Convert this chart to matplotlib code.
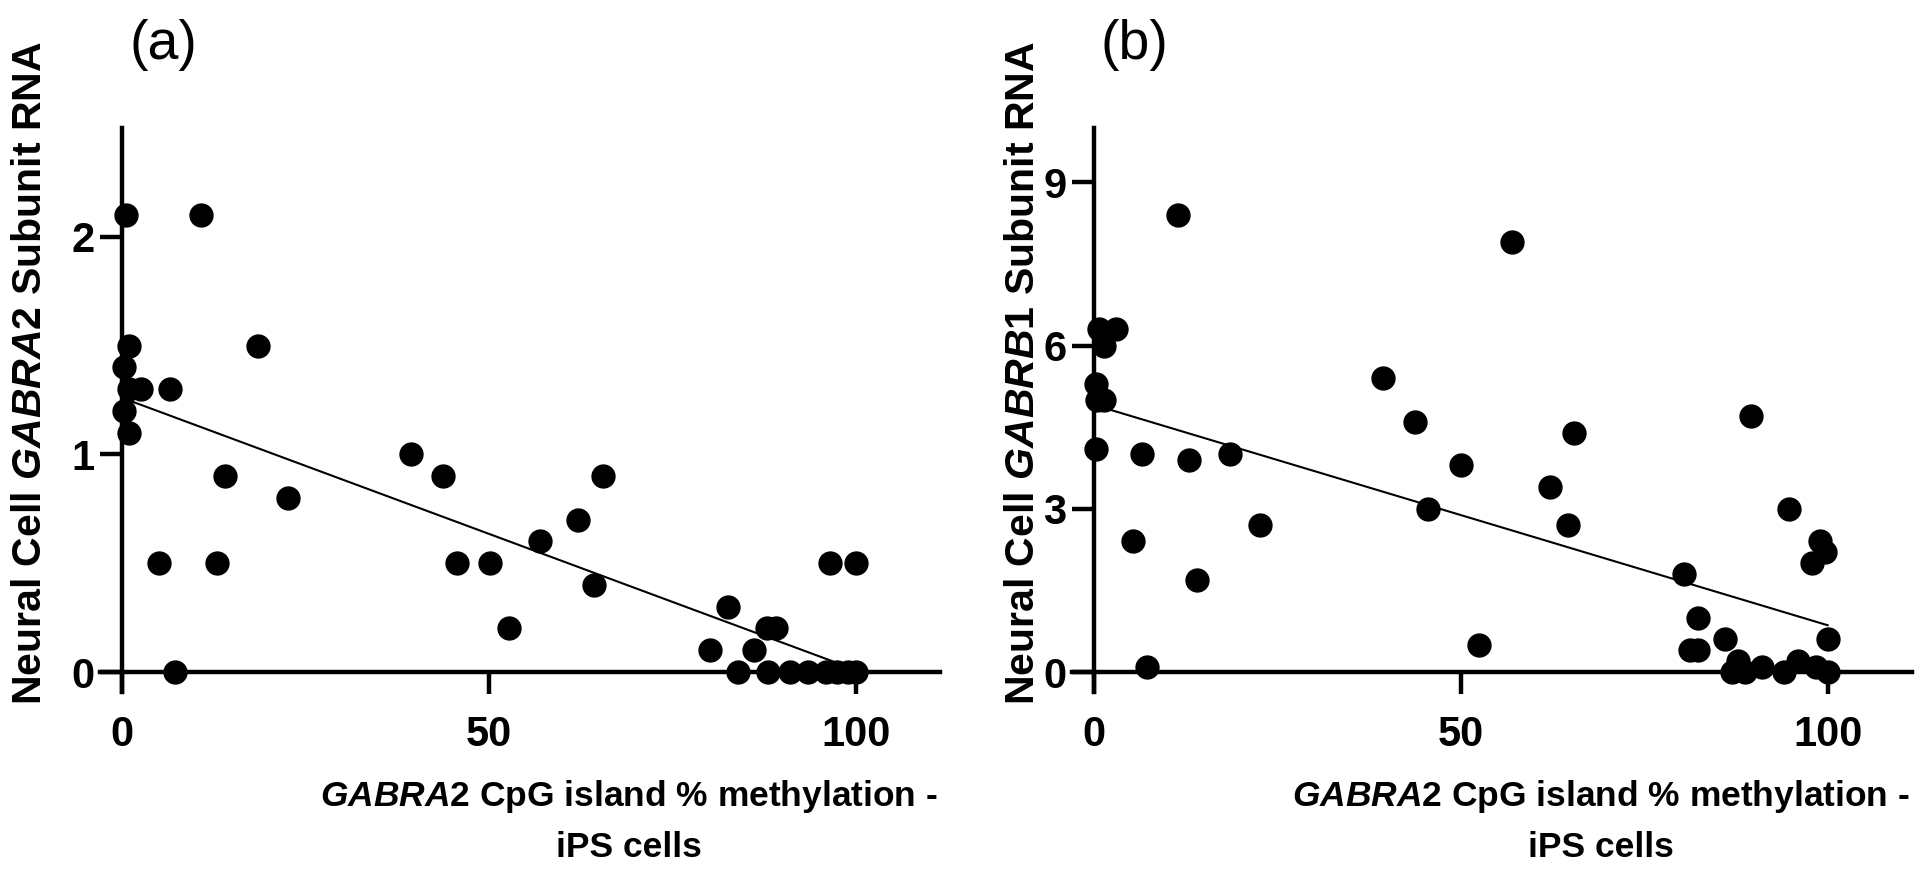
import numpy as np
import matplotlib
matplotlib.use("Agg")
import matplotlib.pyplot as plt

plt.rcParams['font.family'] = ['Liberation Sans', 'DejaVu Sans']
plt.rcParams['mathtext.fontset'] = 'custom'
plt.rcParams['mathtext.rm'] = 'Liberation Sans:bold'
plt.rcParams['mathtext.it'] = 'Liberation Sans:italic:bold'
plt.rcParams['mathtext.bf'] = 'Liberation Sans:bold'

# GABRA2 CpG island % methylation (iPS cells) vs neural cell subunit RNA
meth_a = [0.5, 10.7, 1.0, 18.6, 0.2, 1.0, 2.6, 6.5, 0.3, 1.0, 14.0, 22.6, 5.0, 13.0, 7.2,
          39.4, 43.8, 45.6, 50.1, 52.8, 57.0, 62.2, 64.4, 65.5,
          80.2, 82.6, 84.0, 86.2, 88.0, 87.9, 89.2, 91.0, 93.5, 96.5, 96.0, 97.5, 99.0, 100.0, 100.0]
rna_a = [2.1, 2.1, 1.5, 1.5, 1.4, 1.3, 1.3, 1.3, 1.2, 1.1, 0.9, 0.8, 0.5, 0.5, 0.0,
         1.0, 0.9, 0.5, 0.5, 0.2, 0.6, 0.7, 0.4, 0.9,
         0.1, 0.3, 0.0, 0.1, 0.0, 0.2, 0.2, 0.0, 0.0, 0.5, 0.0, 0.0, 0.0, 0.5, 0.0]

meth_b = [0.7, 3.0, 1.4, 0.3, 0.4, 1.4, 0.3, 6.5, 5.3, 7.2, 11.5, 13.0, 14.0, 18.6, 22.6,
          39.4, 43.8, 45.6, 50.1, 52.5, 57.0, 62.2, 64.6, 65.5,
          80.4, 81.2, 82.4, 82.4, 86.0, 87.0, 87.8, 89.5, 88.8, 91.0, 94.0, 94.7, 96.0,
          97.9, 98.4, 99.0, 99.7, 100.0, 100.0]
rna_b = [6.3, 6.3, 6.0, 5.3, 5.0, 5.0, 4.1, 4.0, 2.4, 0.1, 8.4, 3.9, 1.7, 4.0, 2.7,
         5.4, 4.6, 3.0, 3.8, 0.5, 7.9, 3.4, 2.7, 4.4,
         1.8, 0.4, 0.4, 1.0, 0.6, 0.0, 0.2, 4.7, 0.0, 0.1, 0.0, 3.0, 0.2,
         2.0, 0.1, 2.4, 2.2, 0.6, 0.0]

# linear fits: intercept, slope
fit_a = [1.26, -0.0125]
fit_b = [4.91, -0.0405]
fit_range = [0, 100]

xticks = [0, 50, 100]
yticks_a = [0, 1, 2]
yticks_b = [0, 3, 6, 9]

xlabel = "$\\mathit{GABRA2}$ CpG island % methylation -\niPS cells"
ylabel_a = "Neural Cell $\\mathit{GABRA2}$ Subunit RNA"
ylabel_b = "Neural Cell $\\mathit{GABRB1}$ Subunit RNA"


def draw_panel(ax, x, y, fit, ylim, yticks, ylabel, ylab_x, tag):
    ax.plot(x, y, 'o', color='black', markersize=16.5, clip_on=False, zorder=4)
    xs = np.array(fit_range)
    ax.plot(xs, fit[0] + fit[1] * xs, color='black', lw=1.5, zorder=3)

    ax.set_xlim(-3, 111.5)
    ax.set_ylim(*ylim)
    ax.set_xticks(xticks)
    ax.set_yticks(yticks)

    for s in ['top', 'right']:
        ax.spines[s].set_visible(False)
    ax.spines['left'].set_position(('data', 0))
    ax.spines['bottom'].set_position(('data', 0))
    for s in ['left', 'bottom']:
        ax.spines[s].set_linewidth(3.2)

    ax.tick_params(width=3.2, length=16, labelsize=30)
    ax.tick_params(axis='x', pad=15)
    ax.tick_params(axis='y', pad=4)
    for lab in ax.get_xticklabels() + ax.get_yticklabels():
        lab.set_fontweight('bold')

    ax.text(ylab_x, 0.565, ylabel, rotation=90, ha='center', va='center',
            transform=ax.transAxes, fontsize=29.5, fontweight='bold')
    ax.text(0.63, -0.23, xlabel, ha='center', va='center', multialignment='center',
            transform=ax.transAxes, fontsize=25.5, fontweight='bold', linespacing=1.6)
    ax.text(0.075, 1.147, tag, ha='center', va='center', transform=ax.transAxes,
            fontsize=40)


fig = plt.figure(figsize=(19.2, 8.73), dpi=100)
ax_a = fig.add_axes([0.0521, 0.2078, 0.4375, 0.6456])
ax_b = fig.add_axes([0.5583, 0.2078, 0.4375, 0.6456])

draw_panel(ax_a, meth_a, rna_a, fit_a, (-0.09, 2.5), yticks_a, ylabel_a, -0.083, '(a)')
draw_panel(ax_b, meth_b, rna_b, fit_b, (-0.36, 10), yticks_b, ylabel_b, -0.058, '(b)')

fig.savefig('out.png', dpi=100)
